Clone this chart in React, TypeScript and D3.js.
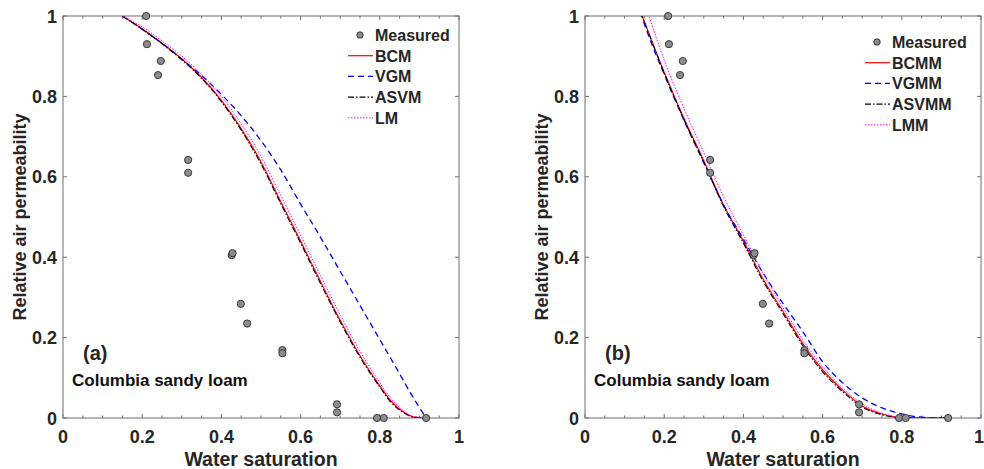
import React from "react";
import * as d3 from "d3";

// measured data (same in both panels)
const measSw = [0.21, 0.212, 0.247, 0.24, 0.316, 0.316, 0.426, 0.428, 0.449, 0.465, 0.554, 0.554, 0.692, 0.692, 0.793, 0.81, 0.917];
const measKr = [1.0, 0.93, 0.888, 0.853, 0.642, 0.61, 0.405, 0.41, 0.284, 0.235, 0.169, 0.161, 0.034, 0.014, 0, 0, 0];

// panel (a) model curves
const swA = [0.15, 0.2, 0.25, 0.3, 0.35, 0.4, 0.45, 0.5, 0.55, 0.6, 0.65, 0.7, 0.75, 0.8, 0.83, 0.86, 0.885, 0.917];
const bcm = [1.0, 0.968, 0.932, 0.893, 0.847, 0.79, 0.72, 0.637, 0.538, 0.44, 0.34, 0.243, 0.155, 0.08, 0.04, 0.015, 0.003, 0];
const asvm = [1.0, 0.967, 0.931, 0.891, 0.845, 0.787, 0.716, 0.632, 0.533, 0.435, 0.335, 0.239, 0.151, 0.077, 0.037, 0.013, 0.002, 0];
const lm = [1.0, 0.973, 0.938, 0.9, 0.855, 0.8, 0.732, 0.651, 0.553, 0.455, 0.355, 0.257, 0.166, 0.088, 0.046, 0.018, 0.004, 0];
const swVgm = [0.15, 0.2, 0.25, 0.3, 0.35, 0.4, 0.45, 0.5, 0.55, 0.6, 0.65, 0.7, 0.75, 0.8, 0.85, 0.88, 0.9, 0.917];
const vgm = [1.0, 0.967, 0.932, 0.893, 0.852, 0.805, 0.752, 0.69, 0.617, 0.532, 0.45, 0.365, 0.28, 0.195, 0.11, 0.058, 0.026, 0];

// panel (b) model curves
const swB = [0.14, 0.15, 0.2, 0.25, 0.3, 0.35, 0.4, 0.45, 0.5, 0.55, 0.6, 0.65, 0.7, 0.75, 0.8, 0.85, 0.92];
const bcmm = [1.01, 0.985, 0.86, 0.745, 0.64, 0.53, 0.44, 0.345, 0.265, 0.185, 0.12, 0.07, 0.03, 0.01, 0.001, 0, 0];
const asvmm = [1.01, 0.985, 0.858, 0.742, 0.636, 0.526, 0.435, 0.34, 0.26, 0.18, 0.115, 0.066, 0.027, 0.008, 0.001, 0, 0];
const vgmm = [1.01, 0.98, 0.855, 0.74, 0.635, 0.53, 0.445, 0.36, 0.285, 0.215, 0.14, 0.088, 0.05, 0.025, 0.01, 0.002, 0];
const swLmm = [0.16, 0.2, 0.25, 0.3, 0.35, 0.4, 0.45, 0.5, 0.55, 0.6, 0.65, 0.7, 0.75, 0.8, 0.85, 0.92];
const lmm = [1.005, 0.89, 0.77, 0.66, 0.55, 0.455, 0.36, 0.275, 0.195, 0.128, 0.075, 0.035, 0.012, 0.002, 0, 0];

const xTicks = [0, 0.2, 0.4, 0.6, 0.8, 1];
const yTicks = [0, 0.2, 0.4, 0.6, 0.8, 1];
const xTickLabels = ["0", "0.2", "0.4", "0.6", "0.8", "1"];
const yTickLabels = ["0", "0.2", "0.4", "0.6", "0.8", "1"];

const TXT = "#262626";
const AX = "#6e6e6e";
const FONT = "Arial, 'Liberation Sans', Helvetica, sans-serif";
const W = 984;

type Series = { name: string; sw: number[]; kr: number[]; color: string; dash?: string; width: number };

function Panel({ left, tag, series, legend }: { left: number; tag: string; series: Series[]; legend: { x: number; y: number } }) {
  const x = d3.scaleLinear().domain([0, 1]).range([left, left + 396]);
  const y = d3.scaleLinear().domain([0, 1]).range([418, 16]);
  const line = d3
    .line<[number, number]>()
    .x((d) => x(d[0]))
    .y((d) => y(d[1]))
    .curve(d3.curveMonotoneX);
  const minor = d3.range(0, 1.0001, 0.05);
  const clipId = "clip" + tag.replace(/[()]/g, "");
  return (
    <g>
      <defs>
        <clipPath id={clipId}>
          <rect x={x(0)} y={y(1)} width={x(1) - x(0)} height={y(0) - y(1)} />
        </clipPath>
      </defs>
      {/* frame */}
      <rect x={x(0)} y={y(1)} width={x(1) - x(0)} height={y(0) - y(1)} fill="white" stroke={AX} strokeWidth={1} />
      {minor.map((t, i) => {
        const major = Math.abs(t * 5 - Math.round(t * 5)) < 1e-6;
        const len = major ? 4 : 2.5;
        return (
          <g key={"mx" + i}>
            <line x1={x(t)} x2={x(t)} y1={y(0)} y2={y(0) - len} stroke={AX} />
            <line x1={x(t)} x2={x(t)} y1={y(1)} y2={y(1) + len} stroke={AX} />
          </g>
        );
      })}
      {yTicks.map((t, i) => (
        <g key={"yt" + i}>
          <line x1={x(0)} x2={x(0) + 4} y1={y(t)} y2={y(t)} stroke={AX} />
          <line x1={x(1)} x2={x(1) - 4} y1={y(t)} y2={y(t)} stroke={AX} />
          <text x={x(0) - 6} y={y(t) + 6.5} textAnchor="end" fontSize={18} fontWeight="bold" fill={TXT} fontFamily={FONT}>
            {yTickLabels[i]}
          </text>
        </g>
      ))}
      {xTicks.map((t, i) => (
        <text
          key={"xt" + i}
          x={Math.min(x(t), W - 5)}
          y={443}
          textAnchor="middle"
          fontSize={18}
          fontWeight="bold"
          fill={TXT}
          fontFamily={FONT}
        >
          {xTickLabels[i]}
        </text>
      ))}
      <text x={(x(0) + x(1)) / 2} y={466} textAnchor="middle" fontSize={19.5} fontWeight="bold" fill={TXT} fontFamily={FONT}>
        Water saturation
      </text>
      <text
        transform={`translate(${x(0) - 37},${(y(0) + y(1)) / 2}) rotate(-90)`}
        textAnchor="middle"
        fontSize={18}
        fontWeight="bold"
        fill={TXT}
        fontFamily={FONT}
      >
        Relative air permeability
      </text>
      <text x={x(0) + 20} y={360} fontSize={20} fontWeight="bold" fill={TXT} fontFamily={FONT}>
        {tag}
      </text>
      <text x={x(0) + 9} y={386} fontSize={17} fontWeight="bold" fill="#111" fontFamily={FONT}>
        Columbia sandy loam
      </text>
      {/* curves */}
      <g clipPath={`url(#${clipId})`}>
        {series.map((s) => (
          <path
            key={s.name}
            d={line(s.sw.map((v, i) => [v, s.kr[i]] as [number, number])) || ""}
            fill="none"
            stroke={s.color}
            strokeWidth={s.width}
            strokeDasharray={s.dash}
          />
        ))}
      </g>
      {measSw.map((v, i) => (
        <circle key={"m" + i} cx={x(v)} cy={y(measKr[i])} r={3.6} fill="#8c8c8c" stroke="#3a3a3a" strokeWidth={1} />
      ))}
      {/* legend */}
      <g fontFamily={FONT} fontSize={16} fontWeight="bold" fill={TXT}>
        <circle cx={legend.x + 12} cy={legend.y} r={3.2} fill="#8c8c8c" stroke="#3a3a3a" strokeWidth={1} />
        <text x={legend.x + 27} y={legend.y + 6}>Measured</text>
        {series.map((s, i) => {
          const ly = legend.y + 20.7 * (i + 1);
          return (
            <g key={"lg" + s.name}>
              <line x1={legend.x} x2={legend.x + 25} y1={ly} y2={ly} stroke={s.color} strokeWidth={s.width} strokeDasharray={s.dash} />
              <text x={legend.x + 27} y={ly + 6}>{s.name}</text>
            </g>
          );
        })}
      </g>
    </g>
  );
}

export default function App() {
  const seriesA: Series[] = [
    { name: "BCM", sw: swA, kr: bcm, color: "#ff0000", width: 1.2 },
    { name: "VGM", sw: swVgm, kr: vgm, color: "#0000ff", dash: "6,4", width: 1.3 },
    { name: "ASVM", sw: swA, kr: asvm, color: "#000000", dash: "6,2,1.5,2", width: 1.1 },
    { name: "LM", sw: swA, kr: lm, color: "#ff00ff", dash: "1.5,1.5", width: 1 },
  ];
  const seriesB: Series[] = [
    { name: "BCMM", sw: swB, kr: bcmm, color: "#ff0000", width: 1.2 },
    { name: "VGMM", sw: swB, kr: vgmm, color: "#0000ff", dash: "6,4", width: 1.3 },
    { name: "ASVMM", sw: swB, kr: asvmm, color: "#000000", dash: "6,2,1.5,2", width: 1.1 },
    { name: "LMM", sw: swLmm, kr: lmm, color: "#ff00ff", dash: "1.5,1.5", width: 1 },
  ];
  return (
    <svg width={W} height={469} style={{ position: "absolute", left: 0, top: 0, background: "white" }}>
      <rect width={W} height={469} fill="white" />
      <Panel left={63} tag="(a)" series={seriesA} legend={{ x: 348, y: 35 }} />
      <Panel left={585} tag="(b)" series={seriesB} legend={{ x: 865, y: 42 }} />
    </svg>
  );
}
